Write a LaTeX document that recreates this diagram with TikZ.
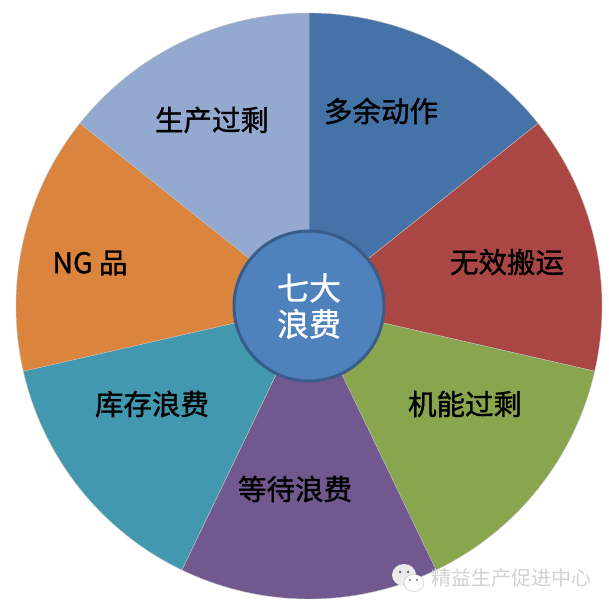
\documentclass[tikz,border=0pt]{standalone}
\usepackage{fontspec}
\setmainfont{Noto Sans CJK SC}
\newfontfamily\wastefont[FakeBold=1.2]{Noto Sans CJK SC}
\newfontfamily\hubfont[FakeBold=0.8]{Noto Sans CJK SC}
\usetikzlibrary{positioning}
\definecolor{wasteblue}{HTML}{4572A7}
\definecolor{wastered}{HTML}{AA4643}
\definecolor{wastegreen}{HTML}{89A54E}
\definecolor{wastepurple}{HTML}{71588F}
\definecolor{wasteteal}{HTML}{4198AF}
\definecolor{wasteorange}{HTML}{DB843D}
\definecolor{wastelight}{HTML}{93A9CF}
\definecolor{hubfill}{HTML}{4F81BD}
\definecolor{hubline}{HTML}{385D8A}
\tikzset{
    wedge/.style={draw=white!75!black,line width=0.4pt},
    waste/.style={font=\fontsize{28.5}{30}\wastefont,text=black,inner sep=0pt},
    hub/.style={circle,draw=hubline,fill=hubfill,line width=3pt,minimum size=150pt,inner sep=0pt,
        align=center,text=white,font=\fontsize{32}{36}\hubfont},
    mark text/.style={font=\fontsize{20}{22}\selectfont,text=black!18,inner sep=0pt}
}
\begin{document}
\begin{tikzpicture}[x=1pt,y=1pt]
    \useasboundingbox (-309,-303) rectangle (300,306);
    % the seven wedges
    \foreach \from/\to/\col in {90/38.57/wasteblue,38.57/-12.86/wastered,-12.86/-64.29/wastegreen,
        -64.29/-115.71/wastepurple,-115.71/-167.14/wasteteal,-167.14/-218.57/wasteorange,
        -218.57/-270/wastelight}
        \filldraw[wedge,fill=\col] (0,0) -- (\from:293) arc[start angle=\from,end angle=\to,radius=293] -- cycle;

    \node[hub] (center) at (0,0) {七大\\浪费};

    \node[waste] (motion)    at (72,195)   {多余动作};
    \node[waste] (transport) at (198,44)   {无效搬运};
    \node[waste] (function)  at (156,-98)  {机能过剩};
    \node[waste] (waiting)   at (-14,-183) {等待浪费};
    \node[waste] (stock)     at (-157,-98) {库存浪费};
    \node[waste] (defect)    at (-219,43)  {NG 品};
    \node[waste] (surplus)   at (-97,186)  {生产过剩};

    % watermark
    \node[mark text,anchor=west] (wechat) at (122,-272) {精益生产促进中心};
    \filldraw[draw=none,fill=white!92!black] (95,-269) ellipse[x radius=12,y radius=11];
    \filldraw[draw=black!25,fill=white,line width=0.4pt] (105,-277) ellipse[x radius=10,y radius=8.5];
    \fill[black!55] (91,-266) circle[radius=1.5] (99,-266) circle[radius=1.5]
        (101,-274) circle[radius=1.2] (108,-274) circle[radius=1.2];
\end{tikzpicture}
\end{document}
